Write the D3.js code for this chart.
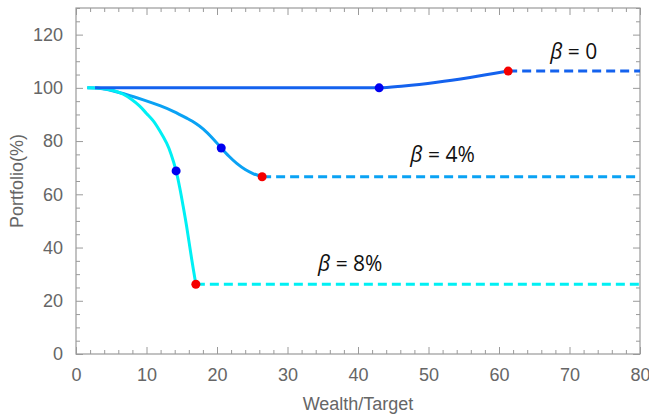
<!DOCTYPE html>
<html>
<head>
<meta charset="utf-8">
<script src="https://cdn.jsdelivr.net/npm/d3@7"></script>
<style>
  html, body { margin: 0; padding: 0; background: #fff; }
  svg { display: block; font-family: "Liberation Sans", Arial, sans-serif; }
</style>
</head>
<body>
<svg id="chart" width="649" height="418"></svg>
<script>
// Portfolio allocation paths against wealth/target ratio for three β values
const xTicks = [0, 10, 20, 30, 40, 50, 60, 70, 80];
const yTicks = [0, 20, 40, 60, 80, 100, 120];

// β = 0 path (solid part)
const beta0X = [2.7, 43.0, 46.5, 51.2, 55.9, 61.3];
const beta0Y = [100, 100, 100.7, 102.1, 103.9, 106.3];
// β = 4% path
const beta4X = [1.6, 4.0, 7.0, 9.55, 11.9, 13.8, 15.7, 17.0, 18.06, 19.4, 20.6, 21.7, 22.8, 24.0, 25.1, 26.4];
const beta4Y = [100, 99.6, 97.6, 95.5, 93.3, 91.2, 88.6, 86.6, 84.5, 81.0, 77.4, 74.3, 71.6, 69.3, 67.8, 66.6];
// β = 8% path
const beta8X = [1.6, 3.5, 5.3, 6.7, 7.9, 9.0, 10.0, 10.96, 11.9, 12.86, 13.5, 14.2, 14.75, 15.2, 15.7, 16.4, 17.0];
const beta8Y = [100, 99.8, 99.0, 97.6, 95.6, 93.2, 90.4, 87.6, 83.8, 79.2, 75.0, 68.8, 62.0, 55.5, 47.8, 35.8, 26.2];

// blue markers (inflection points) and red markers (end of active region)
const blueX = [43.0, 20.6, 14.2];
const blueY = [100, 77.4, 68.8];
const redX = [61.3, 26.4, 17.0];
const redY = [106.3, 66.6, 26.2];

const seriesNames = ["β = 0", "β = 4%", "β = 8%"];
const seriesColors = ["#1462ee", "#0aa2f4", "#00f0f4"];
const labelX = [70.6, 52.0, 38.9];
const labelY = [111, 72, 31];

const svg = d3.select("#chart");
const mLeft = 76, mRight = 640, mTop = 8, mBottom = 354;

const x = d3.scaleLinear().domain([0, 80]).range([mLeft, mRight]);
const y = d3.scaleLinear().domain([0, 130]).range([mBottom, mTop]);

const frameColor = "#9a9a9a";
const textGray = "#666";
const tickFont = "18px";

// frame with inward ticks on all four sides
const axes = svg.append("g");
function styleAxis(g) {
  g.select(".domain").remove();
  g.selectAll("line").attr("stroke", frameColor);
  g.selectAll("text").attr("fill", textGray).style("font-size", tickFont);
}
const xMinor = d3.range(0, 81, 2).filter(v => v % 10 !== 0);
const yMinor = d3.range(0, 131, 5).filter(v => v % 20 !== 0);

// bottom
const xAxisG = axes.append("g").attr("transform", `translate(0,${mBottom})`)
  .call(d3.axisBottom(x).tickValues(xTicks).tickSizeInner(-7).tickSizeOuter(0).tickPadding(14))
  .call(styleAxis);
// keep the last label inside the canvas
xAxisG.selectAll(".tick text").filter(d => d === 80).attr("text-anchor", "end").attr("dx", "10px");
axes.append("g").attr("transform", `translate(0,${mBottom})`)
  .call(d3.axisBottom(x).tickValues(xMinor).tickSizeInner(-4).tickSizeOuter(0).tickFormat(""))
  .call(styleAxis);
// top
axes.append("g").attr("transform", `translate(0,${mTop})`)
  .call(d3.axisTop(x).tickValues(xTicks).tickSizeInner(-7).tickSizeOuter(0).tickFormat(""))
  .call(styleAxis);
axes.append("g").attr("transform", `translate(0,${mTop})`)
  .call(d3.axisTop(x).tickValues(xMinor).tickSizeInner(-4).tickSizeOuter(0).tickFormat(""))
  .call(styleAxis);
// left
axes.append("g").attr("transform", `translate(${mLeft},0)`)
  .call(d3.axisLeft(y).tickValues(yTicks).tickSizeInner(-7).tickSizeOuter(0).tickPadding(13))
  .call(styleAxis);
axes.append("g").attr("transform", `translate(${mLeft},0)`)
  .call(d3.axisLeft(y).tickValues(yMinor).tickSizeInner(-4).tickSizeOuter(0).tickFormat(""))
  .call(styleAxis);
// right
axes.append("g").attr("transform", `translate(${mRight},0)`)
  .call(d3.axisRight(y).tickValues(yTicks).tickSizeInner(-7).tickSizeOuter(0).tickFormat(""))
  .call(styleAxis);
axes.append("g").attr("transform", `translate(${mRight},0)`)
  .call(d3.axisRight(y).tickValues(yMinor).tickSizeInner(-4).tickSizeOuter(0).tickFormat(""))
  .call(styleAxis);

axes.append("rect")
  .attr("x", mLeft).attr("y", mTop)
  .attr("width", mRight - mLeft).attr("height", mBottom - mTop)
  .attr("fill", "none").attr("stroke", frameColor).attr("stroke-width", 1.2);

// axis titles
svg.append("text")
  .attr("x", (mLeft + mRight) / 2).attr("y", 410)
  .attr("text-anchor", "middle")
  .attr("fill", textGray).style("font-size", tickFont)
  .text("Wealth/Target");
svg.append("text")
  .attr("transform", `translate(23,${(mTop + mBottom) / 2}) rotate(-90)`)
  .attr("text-anchor", "middle")
  .attr("fill", textGray).style("font-size", tickFont)
  .text("Portfolio(%)");

const plot = svg.append("g");
const smoothLine = d3.line().x(d => x(d[0])).y(d => y(d[1])).curve(d3.curveCatmullRom.alpha(0.5));
const flatLine = d3.line().x(d => x(d[0])).y(d => y(d[1])).curve(d3.curveMonotoneX);

const paths = [
  d3.zip(beta0X, beta0Y),
  d3.zip(beta4X, beta4Y),
  d3.zip(beta8X, beta8Y)
];
const generators = [flatLine, smoothLine, smoothLine];

// dashed continuation beyond the red marker
redX.forEach((rx, i) => {
  plot.append("line")
    .attr("x1", x(rx)).attr("x2", x(80))
    .attr("y1", y(redY[i])).attr("y2", y(redY[i]))
    .attr("stroke", seriesColors[i])
    .attr("stroke-width", 3)
    .attr("stroke-dasharray", "9,5");
});

// solid paths: β=4%, β=8%, then β=0 on top
[1, 2, 0].forEach(i => {
  plot.append("path")
    .datum(paths[i])
    .attr("d", generators[i])
    .attr("fill", "none")
    .attr("stroke", seriesColors[i])
    .attr("stroke-width", 3)
    .attr("stroke-linecap", "butt");
});

plot.selectAll("circle.blue")
  .data(d3.zip(blueX, blueY))
  .join("circle").attr("class", "blue")
  .attr("cx", d => x(d[0])).attr("cy", d => y(d[1])).attr("r", 4.5)
  .attr("fill", "#0000f0");
plot.selectAll("circle.red")
  .data(d3.zip(redX, redY))
  .join("circle").attr("class", "red")
  .attr("cx", d => x(d[0])).attr("cy", d => y(d[1])).attr("r", 4.5)
  .attr("fill", "#f50000");

// series labels
seriesNames.forEach((name, i) => {
  const t = plot.append("text")
    .attr("x", x(labelX[i])).attr("y", y(labelY[i]))
    .attr("text-anchor", "middle")
    .attr("fill", "#111")
    .style("font-size", "21px")
    .style("font-family", "'Open Sans', 'Liberation Sans', sans-serif");
  t.append("tspan").style("font-style", "italic").text(name.slice(0, 1));
  t.append("tspan").text(name.slice(1));
});
</script>
</body>
</html>
